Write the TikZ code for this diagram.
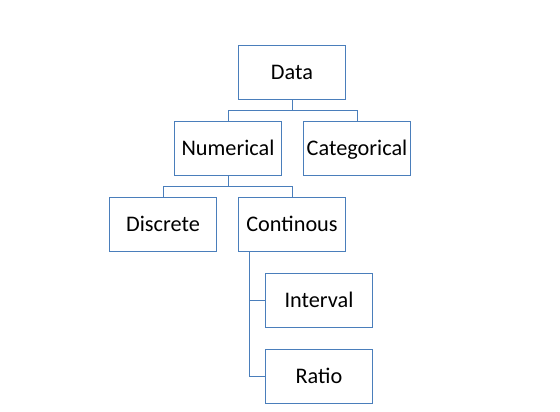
\documentclass[tikz,border=0pt]{standalone}
\usepackage{fontspec}
\setmainfont{Carlito}
\begin{document}
\begin{tikzpicture}[x=0.75pt,y=-0.75pt,
  box/.style={draw=boxblue,line width=0.75pt,minimum width=80.5pt,minimum height=40.5pt,inner sep=0pt,
    text height=11pt,text depth=0.5pt,
    font=\fontsize{16.7pt}{20pt}\selectfont,text=black},
  link/.style={draw=boxblue,line width=0.75pt}]
\definecolor{boxblue}{HTML}{4A7EBB}
\useasboundingbox (0,0) rectangle (560,411);
\node[box] (data) at (292,72.5) {Data};
\node[box] (num) at (228,148) {Numerical};
\node[box] (cat) at (357,148) {Categorical};
\node[box] (disc) at (163,224) {Discrete};
\node[box] (cont) at (292,224) {Continous};
\node[box] (int) at (319,300.5) {Interval};
\node[box] (rat) at (319,376.5) {Ratio};
\coordinate (j1) at (292,110);
\coordinate (j2) at (228,186);
\coordinate (j3) at (249.7,251);
\draw[link] (data.south) -- (j1) -| (num.north);
\draw[link] (j1) -| (cat.north);
\draw[link] (num.south) -- (j2) -| (disc.north);
\draw[link] (j2) -| (cont.north);
\draw[link] (j3) |- (int.west);
\draw[link] (j3) |- (rat.west);
\end{tikzpicture}
\end{document}
